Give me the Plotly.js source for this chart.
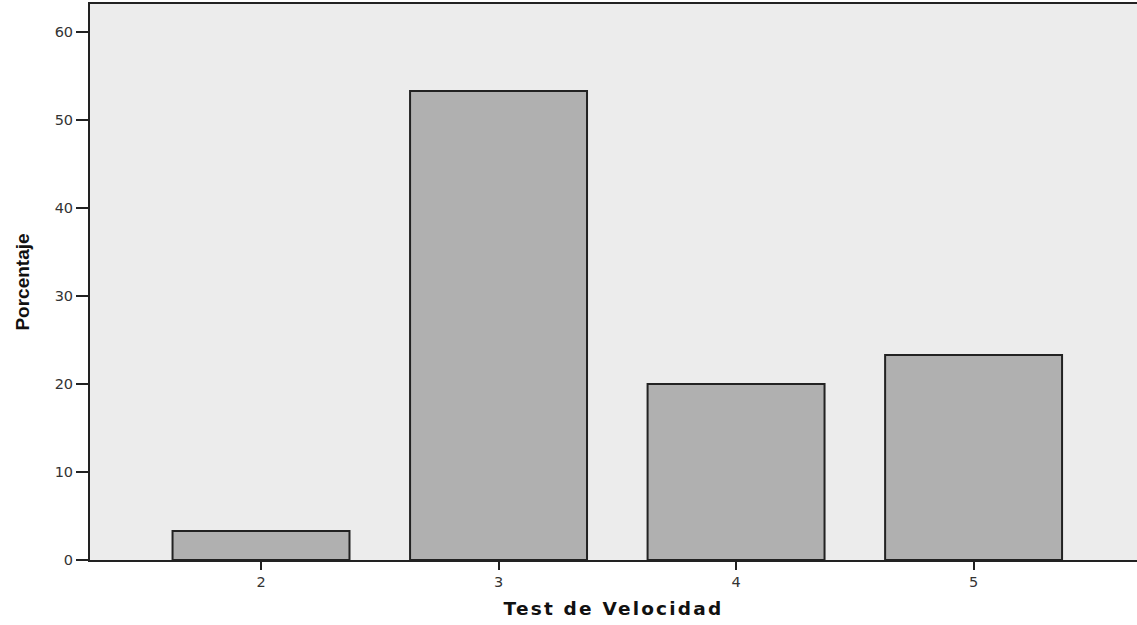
<!DOCTYPE html>
<html>
<head>
<meta charset="utf-8">
<script src="https://cdn.plot.ly/plotly-3.0.1.min.js"></script>
<style>
html,body{margin:0;padding:0;overflow:hidden;background:#fff}
.xtitle{letter-spacing:2.2px}
</style>
</head>
<body>
<div id="chart" style="width:1137px;height:625px"></div>
<script>
const categories = [2, 3, 4, 5];
const percentages = [3.3, 53.3, 20.0, 23.3];
const yTicks = [0, 10, 20, 30, 40, 50, 60];

const trace = {
  type: 'bar',
  x: categories,
  y: percentages,
  width: 0.745,
  marker: {color: '#b0b0b0', line: {color: '#222222', width: 2}},
  hoverinfo: 'x+y'
};

const layout = {
  width: 1137, height: 625,
  margin: {l: 90, r: 0, t: 4, b: 65},
  paper_bgcolor: '#ffffff',
  plot_bgcolor: '#ececec',
  showlegend: false,
  font: {family: 'DejaVu Sans, Verdana, sans-serif', color: '#333'},
  xaxis: {
    range: [1.28, 5.688],
    tickvals: categories,
    ticktext: categories.map(String),
    ticks: 'outside', ticklen: 8, tickwidth: 2, tickcolor: '#222',
    showline: true, linecolor: '#222', linewidth: 2, mirror: true,
    showgrid: false, zeroline: false,
    tickfont: {size: 14.5, color: '#333', family: 'DejaVu Sans, Verdana, sans-serif'},
    title: {text: 'Test de Velocidad', font: {size: 18.5, family: 'DejaVu Sans, Verdana, sans-serif', color: '#111', weight: 'bold'}, standoff: 13},
    fixedrange: true
  },
  yaxis: {
    range: [0, 63.2],
    tickvals: yTicks,
    ticks: 'outside', ticklen: 12, tickwidth: 2, tickcolor: '#222',
    showline: true, linecolor: '#222', linewidth: 2,
    showgrid: false, zeroline: false,
    tickfont: {size: 14.5, color: '#333', family: 'DejaVu Sans, Verdana, sans-serif'},
    title: {text: 'Porcentaje', font: {size: 19, family: 'Liberation Sans Narrow, Liberation Sans, Arial, sans-serif', color: '#111', weight: 'bold'}, standoff: 20},
    fixedrange: true
  }
};

Plotly.newPlot('chart', [trace], layout, {displayModeBar: false, staticPlot: true});
</script>
</body>
</html>
